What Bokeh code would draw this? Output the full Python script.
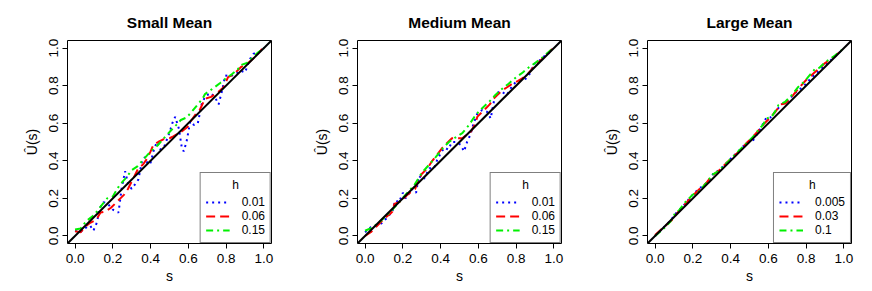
from bokeh.plotting import figure
from bokeh.layouts import row
from bokeh.models import (Range1d, FixedTicker, NumeralTickFormatter, Legend,
                          LegendItem, Slope)
from bokeh.embed import file_html
from bokeh.resources import INLINE

# ---------------- data ----------------
titles = ["Small Mean", "Medium Mean", "Large Mean"]
h_labels = [["0.01", "0.06", "0.15"], ["0.01", "0.06", "0.15"], ["0.005", "0.03", "0.1"]]
legend_title = "h"
tick_vals = [0.0, 0.2, 0.4, 0.6, 0.8, 1.0]

# Panel 1 (Small Mean)
p1_blue_s = [0.00, 0.026, 0.05, 0.08, 0.097, 0.115, 0.132, 0.15, 0.17, 0.20, 0.23, 0.247, 0.265, 0.282,
             0.30, 0.335, 0.355, 0.37, 0.386, 0.40, 0.42, 0.435, 0.45, 0.47, 0.485, 0.50, 0.515, 0.53,
             0.55, 0.565, 0.575, 0.59, 0.61, 0.63, 0.65, 0.67, 0.69, 0.72, 0.745, 0.76, 0.78, 0.795,
             0.82, 0.85, 0.875, 0.90, 0.925, 0.945, 0.97, 1.0]
p1_blue_u = [0.028, 0.019, 0.04, 0.055, 0.028, 0.07, 0.15, 0.18, 0.175, 0.14, 0.125, 0.256, 0.344, 0.274,
             0.25, 0.30, 0.40, 0.42, 0.38, 0.39, 0.47, 0.50, 0.46, 0.47, 0.51, 0.55, 0.60, 0.634,
             0.57, 0.47, 0.45, 0.50, 0.61, 0.59, 0.60, 0.70, 0.745, 0.76, 0.73, 0.70, 0.78, 0.854,
             0.85, 0.86, 0.88, 0.87, 0.94, 0.97, 0.975, 1.0]
p1_red_s = [0.0, 0.03, 0.05, 0.08, 0.10, 0.12, 0.135, 0.16, 0.19, 0.21, 0.24, 0.26, 0.28, 0.30, 0.32,
            0.335, 0.36, 0.38, 0.40, 0.415, 0.44, 0.47, 0.50, 0.52, 0.547, 0.57, 0.595, 0.617, 0.64,
            0.66, 0.688, 0.72, 0.758, 0.785, 0.81, 0.84, 0.88, 0.91, 0.95, 0.99]
p1_red_u = [0.025, 0.02, 0.045, 0.07, 0.08, 0.10, 0.125, 0.13, 0.15, 0.17, 0.20, 0.22, 0.25, 0.29, 0.33,
            0.36, 0.38, 0.41, 0.45, 0.485, 0.50, 0.515, 0.52, 0.53, 0.546, 0.56, 0.58, 0.617, 0.65,
            0.67, 0.73, 0.74, 0.766, 0.79, 0.845, 0.86, 0.90, 0.915, 0.95, 0.995]
p1_green_s = [0.0, 0.03, 0.06, 0.10, 0.13, 0.17, 0.20, 0.235, 0.27, 0.30, 0.33, 0.365, 0.40, 0.435, 0.47,
              0.51, 0.535, 0.56, 0.59, 0.617, 0.65, 0.675, 0.688, 0.73, 0.77, 0.80, 0.83, 0.86, 0.88,
              0.91, 0.94, 0.97, 1.0]
p1_green_u = [0.035, 0.04, 0.08, 0.11, 0.15, 0.20, 0.21, 0.27, 0.31, 0.35, 0.37, 0.41, 0.45, 0.48, 0.52,
              0.564, 0.59, 0.617, 0.63, 0.66, 0.70, 0.73, 0.755, 0.785, 0.815, 0.84, 0.86, 0.885, 0.91,
              0.92, 0.95, 0.977, 1.0]

# Panel 2 (Medium Mean)
p2_blue_s = [0.00, 0.03, 0.065, 0.09, 0.11, 0.145, 0.16, 0.18, 0.20, 0.215, 0.235, 0.25, 0.27, 0.285,
             0.31, 0.34, 0.365, 0.38, 0.40, 0.42, 0.44, 0.46, 0.48, 0.506, 0.524, 0.54, 0.558, 0.575,
             0.594, 0.62, 0.647, 0.665, 0.69, 0.72, 0.75, 0.78, 0.80, 0.83, 0.85, 0.87, 0.894, 0.92,
             0.94, 0.97, 0.99]
p2_blue_u = [0.02, 0.046, 0.054, 0.07, 0.09, 0.13, 0.19, 0.18, 0.23, 0.20, 0.23, 0.25, 0.23, 0.32,
             0.30, 0.36, 0.36, 0.40, 0.44, 0.47, 0.46, 0.50, 0.50, 0.485, 0.45, 0.50, 0.54, 0.60,
             0.65, 0.67, 0.66, 0.625, 0.757, 0.77, 0.75, 0.80, 0.82, 0.83, 0.836, 0.86, 0.915, 0.93,
             0.95, 0.97, 0.995]
p2_red_s = [0.0, 0.03, 0.056, 0.08, 0.11, 0.135, 0.145, 0.155, 0.18, 0.20, 0.225, 0.25, 0.265, 0.277,
            0.30, 0.33, 0.356, 0.38, 0.41, 0.44, 0.46, 0.49, 0.515, 0.54, 0.56, 0.58, 0.595, 0.62,
            0.64, 0.66, 0.68, 0.70, 0.727, 0.75, 0.78, 0.81, 0.83, 0.86, 0.90, 0.94, 0.99]
p2_red_u = [0.0, 0.02, 0.046, 0.07, 0.10, 0.12, 0.13, 0.17, 0.18, 0.195, 0.22, 0.24, 0.25, 0.28,
            0.33, 0.36, 0.40, 0.43, 0.47, 0.50, 0.52, 0.52, 0.52, 0.54, 0.555, 0.59, 0.635, 0.66,
            0.68, 0.70, 0.73, 0.75, 0.775, 0.79, 0.81, 0.825, 0.837, 0.86, 0.907, 0.945, 0.995]
p2_green_s = [0.0, 0.04, 0.074, 0.11, 0.145, 0.18, 0.215, 0.26, 0.30, 0.34, 0.374, 0.41, 0.444, 0.48,
              0.515, 0.55, 0.585, 0.62, 0.656, 0.69, 0.727, 0.76, 0.80, 0.835, 0.868, 0.90, 0.94, 0.99]
p2_green_u = [0.028, 0.045, 0.072, 0.105, 0.14, 0.18, 0.22, 0.27, 0.335, 0.38, 0.42, 0.465, 0.50, 0.525,
              0.547, 0.59, 0.643, 0.68, 0.713, 0.75, 0.784, 0.81, 0.845, 0.87, 0.898, 0.92, 0.95, 0.995]

# Panel 3 (Large Mean)
p3_blue_s = [0.0, 0.04, 0.08, 0.11, 0.15, 0.19, 0.23, 0.26, 0.29, 0.31, 0.34, 0.38, 0.43, 0.47, 0.50,
             0.52, 0.56, 0.59, 0.61, 0.64, 0.67, 0.70, 0.74, 0.79, 0.84, 0.88, 0.93, 0.98]
p3_blue_u = [0.0, 0.04, 0.08, 0.12, 0.16, 0.21, 0.25, 0.27, 0.30, 0.335, 0.35, 0.39, 0.44, 0.48, 0.505,
             0.51, 0.575, 0.63, 0.63, 0.665, 0.70, 0.715, 0.76, 0.80, 0.855, 0.89, 0.935, 0.98]
p3_red_s = [0.0, 0.05, 0.09, 0.12, 0.16, 0.20, 0.24, 0.27, 0.30, 0.34, 0.39, 0.44, 0.49, 0.52, 0.55,
            0.58, 0.61, 0.64, 0.665, 0.69, 0.72, 0.76, 0.80, 0.85, 0.90, 0.95, 0.99]
p3_red_u = [0.005, 0.05, 0.085, 0.125, 0.17, 0.215, 0.255, 0.28, 0.32, 0.35, 0.40, 0.445, 0.50, 0.53,
            0.565, 0.60, 0.63, 0.665, 0.70, 0.705, 0.735, 0.785, 0.83, 0.875, 0.92, 0.955, 0.99]
p3_green_s = [0.0, 0.053, 0.08, 0.106, 0.13, 0.16, 0.20, 0.23, 0.256, 0.28, 0.30, 0.335, 0.36, 0.388,
              0.44, 0.494, 0.52, 0.547, 0.57, 0.59, 0.617, 0.64, 0.653, 0.688, 0.723, 0.758, 0.79,
              0.81, 0.847, 0.87, 0.90, 0.952, 0.996]
p3_green_u = [0.0, 0.046, 0.075, 0.12, 0.14, 0.18, 0.22, 0.235, 0.265, 0.29, 0.325, 0.344, 0.37, 0.397,
              0.45, 0.503, 0.53, 0.564, 0.59, 0.625, 0.634, 0.67, 0.696, 0.713, 0.749, 0.793, 0.82,
              0.845, 0.889, 0.895, 0.924, 0.96, 0.995]

panels = [
    [(p1_blue_s, p1_blue_u), (p1_red_s, p1_red_u), (p1_green_s, p1_green_u)],
    [(p2_blue_s, p2_blue_u), (p2_red_s, p2_red_u), (p2_green_s, p2_green_u)],
    [(p3_blue_s, p3_blue_u), (p3_red_s, p3_red_u), (p3_green_s, p3_green_u)],
]

# ---------------- styling ----------------
FONT = "Liberation Sans"
colors = ["#0000FF", "#FF0000", "#00F000"]
dashes = ["2 4", "9 5", "7 4 2 4"]
right_borders = [19, 19, 14]
title_pad = ["\u00a0" * 8, "\u00a0" * 8, "\u00a0" * 9]

figs = []
for i in range(3):
    p = figure(frame_width=204, frame_height=203,
               x_range=Range1d(-0.04, 1.04), y_range=Range1d(-0.04, 1.04),
               output_backend="svg", toolbar_location=None,
               min_border_left=67, min_border_right=right_borders[i],
               min_border_top=40, min_border_bottom=44,
               title=titles[i])
    p.title.align = "center"
    p.title.text_font = FONT
    p.title.text_font_size = "15.5px"
    p.title.text_font_style = "bold"
    p.title.text_color = "black"
    p.title.standoff = 19

    p.outline_line_color = "black"
    p.outline_line_width = 1
    p.xgrid.visible = False
    p.ygrid.visible = False

    for ax in (p.xaxis[0], p.yaxis[0]):
        ax.ticker = FixedTicker(ticks=tick_vals)
        ax.formatter = NumeralTickFormatter(format="0.0")
        ax.axis_line_color = None
        ax.major_tick_line_color = "black"
        ax.major_tick_out = 5
        ax.major_tick_in = 0
        ax.minor_tick_line_color = None
        ax.major_label_text_font = FONT
        ax.major_label_text_font_size = "13.5px"
        ax.major_label_text_color = "black"
        ax.axis_label_text_font = FONT
        ax.axis_label_text_font_size = "14px"
        ax.axis_label_text_font_style = "normal"
        ax.axis_label_text_color = "black"
    p.xaxis.axis_label = "s"
    p.xaxis.major_label_standoff = 5
    p.xaxis.axis_label_standoff = 2
    p.yaxis.axis_label = "Û(s)"
    p.yaxis.major_label_orientation = "vertical"
    p.yaxis.major_label_standoff = 4
    p.yaxis.axis_label_standoff = 7

    items = []
    for j, (s, u) in enumerate(panels[i]):
        r = p.line(s, u, line_color=colors[j], line_width=2, line_dash=dashes[j])
        items.append(LegendItem(label=h_labels[i][j], renderers=[r]))

    p.add_layout(Slope(gradient=1, y_intercept=0, line_color="black", line_width=2))

    legend = Legend(items=items, location="bottom_right", title=title_pad[i] + legend_title,
                    margin=0, padding=5, spacing=0,
                    glyph_width=24, glyph_height=12, label_height=12,
                    label_standoff=12,
                    label_text_font=FONT, label_text_font_size="12px", label_text_color="black",
                    title_text_font=FONT, title_text_font_size="12px", title_text_color="black",
                    title_text_font_style="normal", title_standoff=3,
                    border_line_color="black", border_line_width=1,
                    background_fill_color="white", background_fill_alpha=1.0)
    p.add_layout(legend)
    figs.append(p)

layout = row(*figs)
open("out.html", "w").write(file_html(layout, INLINE))
